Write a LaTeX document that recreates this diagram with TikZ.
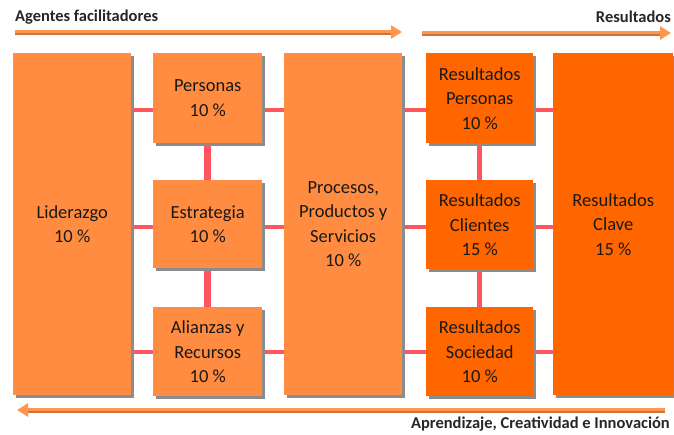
\documentclass[tikz,border=0pt]{standalone}
\usepackage{fontspec}
\setmainfont{Carlito}
\usetikzlibrary{shadows,backgrounds,arrows.meta}
\definecolor{lightor}{RGB}{255,140,64}
\definecolor{darkor}{RGB}{255,102,0}
\definecolor{conncol}{RGB}{255,85,95}
\definecolor{arrowlight}{RGB}{255,150,80}
\definecolor{arrowdark}{RGB}{205,115,60}
\definecolor{txt}{RGB}{25,25,25}
\begin{document}
\begin{tikzpicture}[x=1pt,y=-1pt,
  box/.style={draw=none, anchor=north west, inner sep=0pt, align=center,
    font=\fontsize{18.5}{24.5}\selectfont, text=txt,
    drop shadow={shadow xshift=3pt, shadow yshift=-3pt, fill=black!45, opacity=1}},
  lbox/.style={box, fill=lightor},
  dbox/.style={box, fill=darkor},
  hconn/.style={draw=conncol, line width=4.5pt},
  vconnw/.style={draw=conncol, line width=7pt},
  vconnn/.style={draw=conncol, line width=4.5pt},
  hdr/.style={font=\fontsize{16.5}{20}\selectfont\bfseries, text=black!85, inner sep=0pt},
  bigarrow/.style={line width=5pt, arrowlight, -{Triangle[length=11pt,width=13pt]}},
  arrowshade/.style={line width=2pt, arrowdark}
]
\useasboundingbox (0,0) rectangle (674,434);

% boxes
\node[lbox, minimum width=118pt, minimum height=342pt] (lid) at (13,53) {Liderazgo\\10 \%};
\node[lbox, minimum width=109pt, minimum height=90pt] (per) at (153,53) {Personas\\10 \%};
\node[lbox, minimum width=109pt, minimum height=88pt] (est) at (153,180) {Estrategia\\10 \%};
\node[lbox, minimum width=109pt, minimum height=89pt] (ali) at (153,307) {Alianzas y\\Recursos\\10 \%};
\node[lbox, minimum width=118pt, minimum height=342pt] (pro) at (284,53) {Procesos,\\Productos y\\Servicios\\10 \%};
\node[dbox, minimum width=107pt, minimum height=90pt] (rper) at (426,53) {Resultados\\Personas\\10 \%};
\node[dbox, minimum width=107pt, minimum height=89pt] (rcli) at (426,180) {Resultados\\Clientes\\15 \%};
\node[dbox, minimum width=107pt, minimum height=89pt] (rsoc) at (426,307) {Resultados\\Sociedad\\10 \%};
\node[dbox, minimum width=120pt, minimum height=342pt] (rcla) at (553,53) {Resultados\\Clave\\15 \%};

% row levels
\coordinate (r1) at (0,110);
\coordinate (r2) at (0,227);
\coordinate (r3) at (0,352);

\begin{scope}[on background layer]
  \foreach \r in {r1,r2,r3}{
    \draw[hconn] (lid.east |- \r) -- (per.east |- \r);
    \draw[hconn] (per.east |- \r) -- (pro.west |- \r);
    \draw[hconn] (pro.east |- \r) -- (rper.west |- \r);
    \draw[hconn] (rper.east |- \r) -- (rcla.west |- \r);
  }
  \draw[vconnw] (per.south) -- (est.north);
  \draw[vconnw] (est.south) -- (ali.north);
  \draw[vconnn] (rper.south) -- (rcli.north);
  \draw[vconnn] (rcli.south) -- (rsoc.north);
\end{scope}

% headers
\node[hdr, anchor=west] (tA) at (15,17) {Agentes facilitadores};
\node[hdr, anchor=east] (tR) at (671,17) {Resultados};
\node[hdr, anchor=east] (tB) at (670,424) {Aprendizaje, Creatividad e Innovación};

% arrows
\coordinate (a1s) at (15,32);
\coordinate (a1e) at (402,32);
\coordinate (a2s) at (422,33);
\coordinate (a2e) at (671,33);
\coordinate (a3s) at (665,410);
\coordinate (a3e) at (17,410);
\draw[bigarrow] (a1s) -- (a1e);
\draw[arrowshade] ([yshift=-1.8pt]a1s) -- ([xshift=-11pt,yshift=-1.8pt]a1e);
\draw[bigarrow] (a2s) -- (a2e);
\draw[arrowshade] ([yshift=-1.8pt]a2s) -- ([xshift=-11pt,yshift=-1.8pt]a2e);
\draw[bigarrow] (a3s) -- (a3e);
\draw[arrowshade] ([yshift=-1.8pt]a3s) -- ([xshift=11pt,yshift=-1.8pt]a3e);
\end{tikzpicture}
\end{document}
